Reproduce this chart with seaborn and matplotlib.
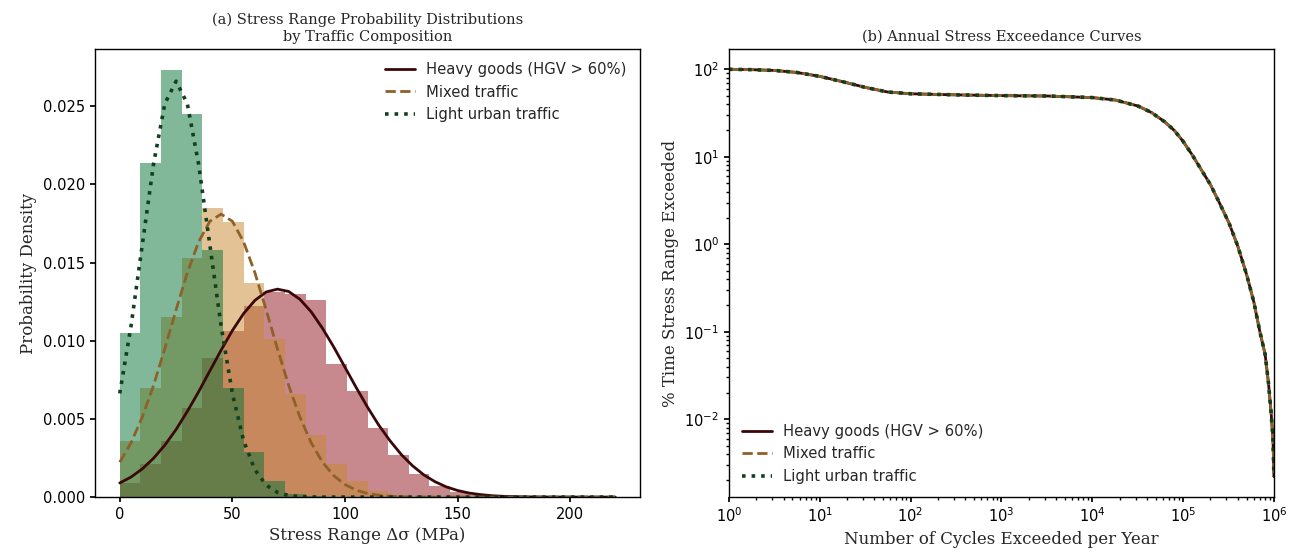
import numpy as np
import pandas as pd
import matplotlib
matplotlib.use("Agg")
import matplotlib.pyplot as plt
import seaborn as sns

# ---------------- data ----------------
series_names = ["Heavy goods (HGV > 60%)", "Mixed traffic", "Light urban traffic"]

# common histogram bins (MPa)
bin_edges = list(np.linspace(0, 220, 25))

hist_heavy = [0.0009, 0.0021, 0.0036, 0.0057, 0.0089, 0.0106, 0.0122, 0.0131,
              0.0130, 0.0126, 0.0085, 0.0068, 0.0044, 0.0027, 0.0015, 0.0007,
              0.0003, 0.00015, 0.00006, 0.00003, 0.00001]
hist_mixed = [0.0036, 0.0070, 0.0115, 0.0153, 0.0185, 0.0176, 0.0137, 0.0101,
              0.0066, 0.0040, 0.0021, 0.0010, 0.0004, 0.00015, 0.00005]
hist_light = [0.0105, 0.0214, 0.0273, 0.0245, 0.0158, 0.0070, 0.0029, 0.0010,
              0.0002, 0.00005]

# fitted density curves, read every 5 MPa
curve_x = list(range(0, 225, 5))
curve_heavy = [0.00090, 0.00128, 0.00180, 0.00248, 0.00332, 0.00432, 0.00548,
               0.00673, 0.00807, 0.00940, 0.01065, 0.01174, 0.01258, 0.01312,
               0.01330, 0.01315, 0.01265, 0.01185, 0.01080, 0.00960, 0.00830,
               0.00700, 0.00575, 0.00460, 0.00360, 0.00272, 0.00200, 0.00142,
               0.00098, 0.00065, 0.00042, 0.00026, 0.00016, 0.00009, 0.00005,
               0.00003, 0.000015, 0.000008, 0.000004, 0.000002, 0.000001,
               0.0, 0.0, 0.0, 0.0]
curve_mixed = [0.00223, 0.00347, 0.00511, 0.00714, 0.00949, 0.01197, 0.01435,
               0.01632, 0.01764, 0.01810, 0.01764, 0.01632, 0.01435, 0.01197,
               0.00949, 0.00714, 0.00511, 0.00347, 0.00223, 0.00137, 0.00080,
               0.00044, 0.00023, 0.000115, 0.000054, 0.000024, 0.00001,
               0.000004, 0.0, 0.0, 0.0, 0.0, 0.0, 0.0, 0.0, 0.0, 0.0, 0.0,
               0.0, 0.0, 0.0, 0.0, 0.0, 0.0, 0.0]
curve_light = [0.00663, 0.01094, 0.01613, 0.02130, 0.02516, 0.02660, 0.02516,
               0.02130, 0.01613, 0.01094, 0.00663, 0.00360, 0.00175, 0.00076,
               0.00030, 0.00010, 0.000032, 0.000009, 0.0, 0.0, 0.0, 0.0, 0.0,
               0.0, 0.0, 0.0, 0.0, 0.0, 0.0, 0.0, 0.0, 0.0, 0.0, 0.0, 0.0,
               0.0, 0.0, 0.0, 0.0, 0.0, 0.0, 0.0, 0.0, 0.0, 0.0]

# annual exceedance curves
cycles = [1, 1.8, 3.2, 5.6, 10, 18, 32, 56, 100, 320, 1000, 3200, 1e4, 1.8e4,
          3.2e4, 4.5e4, 6.3e4, 8e4, 1e5, 1.26e5, 1.6e5, 2e5, 2.5e5, 3.2e5,
          4e5, 5e5, 6e5, 7e5, 8e5, 8.7e5, 9.3e5, 9.75e5, 1e6]
exceed_heavy = [100, 99, 97, 92, 83, 72, 62, 55, 52.5, 51, 50, 49.5, 47.5, 44.5,
                38, 32, 25, 20, 15, 10.5, 7, 4.8, 3.0, 1.75, 0.95, 0.45, 0.22,
                0.1, 0.055, 0.026, 0.012, 0.006, 0.0022]
exceed_mixed = list(exceed_heavy)
exceed_light = list(exceed_heavy)

# ---------------- style ----------------
sns.set_theme(style="ticks", rc={
    "xtick.major.size": 3.5, "ytick.major.size": 3.5,
    "xtick.minor.size": 2, "ytick.minor.size": 2,
    "axes.edgecolor": "black", "xtick.color": "black", "ytick.color": "black",
    "axes.linewidth": 1.0,
})
plt.rcParams["font.family"] = ["DejaVu Sans"]
SERIF = "DejaVu Serif"

fill_colors = ["#91131f", "#c9892d", "#057337"]
line_colors = ["#3a0808", "#8f6128", "#12401f"]
line_styles = ["-", "--", ":"]
line_widths = [2.0, 2.0, 2.6]

fig, (ax1, ax2) = plt.subplots(1, 2, figsize=(12.94, 5.56), dpi=100)
fig.subplots_adjust(left=0.0734, right=0.9845, bottom=0.106, top=0.912, wspace=0.163)

# ---------------- panel (a) ----------------
hists = [hist_heavy, hist_mixed, hist_light]
for h, c in zip(hists, fill_colors):
    edges = bin_edges[: len(h) + 1]
    centers = [(a + b) / 2 for a, b in zip(edges[:-1], edges[1:])]
    hdf = pd.DataFrame({"stress": centers, "dens": h})
    sns.histplot(data=hdf, x="stress", weights="dens", bins=edges, stat="count",
                 element="step", fill=True, color=c, alpha=0.5,
                 linewidth=0, ax=ax1)

curve_df = pd.DataFrame({"x": curve_x * 3,
                         "y": curve_heavy + curve_mixed + curve_light,
                         "s": sum([[n] * len(curve_x) for n in series_names], [])})
for name, c, ls, lw in zip(series_names, line_colors, line_styles, line_widths):
    d = curve_df[curve_df["s"] == name]
    sns.lineplot(data=d, x="x", y="y", color=c, linestyle=ls, linewidth=lw,
                 label=name, ax=ax1)

ax1.set_title("(a) Stress Range Probability Distributions\nby Traffic Composition",
              fontfamily=SERIF, fontsize=10.5)
ax1.set_xlabel("Stress Range Δσ (MPa)", fontfamily=SERIF, fontsize=12)
ax1.set_ylabel("Probability Density", fontfamily=SERIF, fontsize=12)
ax1.set_xticks([0, 50, 100, 150, 200])
ax1.set_yticks([0.0, 0.005, 0.010, 0.015, 0.020, 0.025])
ax1.yaxis.set_major_formatter(matplotlib.ticker.FormatStrFormatter("%.3f"))
ax1.tick_params(labelsize=10.5)
ax1.legend(loc="upper right", frameon=False, fontsize=10.6)

# ---------------- panel (b) ----------------
exc_df = pd.DataFrame({"n": cycles * 3,
                       "p": exceed_heavy + exceed_mixed + exceed_light,
                       "s": sum([[n] * len(cycles) for n in series_names], [])})
for name, c, ls, lw in zip(series_names, line_colors, line_styles, line_widths):
    d = exc_df[exc_df["s"] == name]
    sns.lineplot(data=d, x="n", y="p", color=c, linestyle=ls, linewidth=lw,
                 label=name, ax=ax2)
ax2.set_xscale("log")
ax2.set_yscale("log")
ax2.set_xlim(1, 1e6)
ax2.set_title("(b) Annual Stress Exceedance Curves", fontfamily=SERIF, fontsize=10.5)
ax2.set_xlabel("Number of Cycles Exceeded per Year", fontfamily=SERIF, fontsize=12)
ax2.set_ylabel("% Time Stress Range Exceeded", fontfamily=SERIF, fontsize=12)
ax2.tick_params(labelsize=10.5)
ax2.legend(loc="lower left", frameon=False, fontsize=10.6)

for ax in (ax1, ax2):
    for sp in ax.spines.values():
        sp.set_visible(True)

fig.savefig("out.png", dpi=100)
